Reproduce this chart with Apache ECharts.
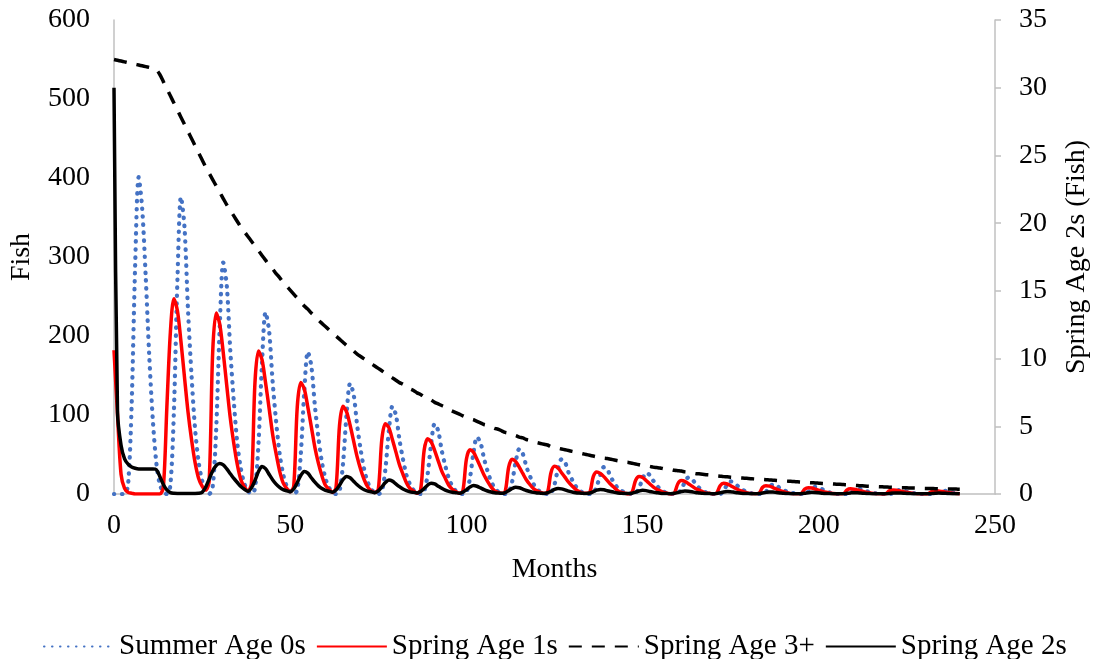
<!DOCTYPE html>
<html>
<head>
<meta charset="utf-8">
<script src="https://cdn.jsdelivr.net/npm/echarts@6/dist/echarts.min.js"></script>
<style>
html,body{margin:0;padding:0;background:#fff;}
#chart{width:1094px;height:659px;}
</style>
</head>
<body>
<div id="chart"></div>
<script>
// Monthly values, month 0 .. 240
const summerAge0 = [
  0,0,0,0,12,112,289,401,361,275,175,95,
  40,12,3,0,11,105,271,376,338,233,150,83,
  41,17,6,0,9,82,211,293,264,182,117,64,
  32,13,4,0,7,64,166,230,207,143,92,51,
  25,10,3,0,5,50,130,180,162,112,72,40,
  20,8,3,0,4,39,101,140,126,87,56,31,
  15,6,2,0,3,31,80,111,100,69,44,24,
  12,5,2,0,3,25,64,89,80,55,36,20,
  10,4,1,0,2,20,52,72,65,45,29,16,
  8,3,1,0,2,16,41,57,51,35,23,13,
  6,3,1,0,1,12,32,44,40,27,18,10,
  5,2,1,0,1,10,24,34,31,21,14,7,
  4,2,1,0,1,8,19,27,24,17,11,6,
  3,1,0,0,1,6,15,21,19,13,8,5,
  2,1,0,0,0,4,12,16,14,10,6,4,
  2,1,0,0,0,3,9,12,11,7,5,3,
  1,1,0,0,0,3,6,9,8,6,4,2,
  1,0,0,0,0,2,5,7,6,4,3,2,
  1,0,0,0,0,1,4,5,5,3,2,1,
  1,0,0,0,0,1,3,4,4,2,2,1,
  0
];
const springAge1 = [
  182,100,25,7,2,1,0,0,0,0,0,0,0,0,
  8,110,205,247,232,193,148,104,69,40,20,10,
  5,16,179,229,215,179,137,96,64,37,18,9,
  4,13,141,181,170,141,109,76,51,29,14,7,
  3,10,110,141,133,110,85,59,39,23,11,6,
  2,8,87,111,104,87,67,47,31,18,9,4,
  2,6,69,89,84,69,53,37,25,14,7,4,
  1,5,55,70,66,55,42,29,20,11,6,3,
  1,4,44,56,53,44,34,24,16,9,4,2,
  1,3,34,44,41,34,26,18,12,7,4,2,
  1,2,27,35,33,27,21,15,10,6,3,1,
  1,2,22,28,26,22,17,12,8,4,2,1,
  0,2,17,22,21,17,13,9,6,4,2,1,
  0,1,13,17,16,13,10,7,5,3,1,1,
  0,1,10.5,13.5,12.7,10.5,8,5.7,3.8,2.2,1.1,0.5,
  0.3,0.7,8.2,10.5,9.9,8.2,6.3,4.4,2.9,1.7,0.8,0.4,
  0.2,0.6,6.2,8,7.5,6.2,4.8,3.4,2.2,1.3,0.6,0.3,
  0.2,0.5,5.1,6.5,6.1,5.1,3.9,2.7,1.8,1,0.5,0.3,
  0.1,0.4,3.9,5,4.7,3.9,3,2.1,1.4,0.8,0.4,0.2,
  0.1,0.3,3.1,4,3.8,3.1,2.4,1.7,1.1,0.6,0.3
];
const springAge3 = [
  550,549,548,547,546,545,544,543,542,541,540,539,
  537,531,522,513,504,495,486,477,468,459,450,441,
  432,423,414,406,398,390,382,374,366,359,352,345,
  338,332,326,320,314,308,302,296,290,285,279,274,
  268,263,258,253,248,243,238,234,229,225,220,216,
  212,208,204,200,196,192,188,185,181,177,174,171,
  168,165,162,159,156,153,150,147,144,141,139,136,
  133,131,128,126,123,121,119,116,114,112,110,107,
  105,103,101,99,97,95,94,92,90,88,87,85,
  83,82,80,78,77,75,74,72,71,69,68,66,
  65,64,63,62,60,59,58,57,56,55,54,53,
  52,51,50,49,48,47,46,45.5,45,44,43,42,
  41.5,40.5,40,39,38,37,36,35.5,35,34,33.5,33,
  32,31.5,31,30,29.5,29,28,27.5,27,26,25.5,25,
  24.5,24,23.5,23,22.5,22,21.7,21.3,21,20.6,20.3,20,
  19.6,19.3,19,18.7,18.4,18.1,17.8,17.5,17.2,16.9,16.6,16.3,
  16,15.7,15.4,15.1,14.8,14.5,14.2,14,13.7,13.4,13.2,12.9,
  12.7,12.4,12.2,11.9,11.6,11.3,11,10.7,10.4,10.1,9.9,9.7,
  9.5,9.3,9.1,8.9,8.7,8.5,8.3,8.1,8,7.8,7.7,7.5,
  7.4,7.2,7.1,7,6.9,6.8,6.7,6.6,6.5,6.4,6.3,6.2,
  6.1
];
const springAge2 = [
  30,6,3.6,2.6,2.2,2.0,1.9,1.85,1.85,1.85,1.85,1.85,1.8,1.3,
  0.7,0.3,0.1,0.05,0.04,0.04,0.04,0.04,0.04,0.04,0.05,0.12,
  0.5,1.1,1.7,2.1,2.25,2.15,1.85,1.5,1.15,0.85,0.55,0.35,
  0.2,0.45,1.0,1.66,2.03,1.87,1.46,1.06,0.73,0.49,0.32,0.24,
  0.17,0.37,0.84,1.37,1.67,1.54,1.2,0.87,0.6,0.4,0.27,0.2,
  0.13,0.29,0.65,1.07,1.3,1.2,0.94,0.68,0.47,0.31,0.21,0.16,
  0.1,0.23,0.52,0.84,1.03,0.95,0.74,0.54,0.37,0.25,0.16,0.12,
  0.08,0.18,0.4,0.66,0.8,0.74,0.58,0.42,0.29,0.19,0.13,0.1,
  0.06,0.14,0.31,0.51,0.62,0.57,0.45,0.32,0.22,0.15,0.1,0.07,
  0.05,0.11,0.25,0.41,0.5,0.46,0.36,0.26,0.18,0.12,0.08,0.06,
  0.04,0.09,0.2,0.34,0.41,0.38,0.3,0.21,0.15,0.1,0.07,0.05,
  0.03,0.07,0.17,0.28,0.34,0.31,0.24,0.18,0.12,0.08,0.05,0.04,
  0.03,0.06,0.14,0.22,0.27,0.25,0.19,0.14,0.1,0.06,0.04,0.03,
  0.02,0.05,0.11,0.18,0.22,0.2,0.16,0.11,0.08,0.05,0.04,0.03,
  0.02,0.04,0.09,0.15,0.18,0.17,0.13,0.09,0.06,0.04,0.03,0.02,
  0.015,0.03,0.075,0.12,0.15,0.14,0.11,0.08,0.05,0.04,0.02,0.02,
  0.01,0.03,0.06,0.1,0.12,0.11,0.09,0.06,0.04,0.03,0.02,0.01,
  0.01,0.02,0.05,0.08,0.1,0.09,0.07,0.05,0.04,0.02,0.02,0.01,
  0.01,0.02,0.04,0.07,0.08,0.07,0.06,0.04,0.03,0.02,0.01,0.01,
  0.01,0.01,0.03,0.05,0.065,0.06,0.05,0.03,0.02,0.02,0.01
];
const seriesNames = ['Summer Age 0s', 'Spring Age 1s', 'Spring Age 3+', 'Spring Age 2s'];
const xAxisName = 'Months';
const leftAxisName = 'Fish';
const rightAxisName = 'Spring Age 2s (Fish)';

const toPairs = arr => arr.map((v, i) => [i, v]);
const FONT = "'Liberation Serif', 'Times New Roman', serif";
const FS = 28;
const axisGray = '#c0c0c0';

const chart = echarts.init(document.getElementById('chart'), null, {renderer: 'canvas'});
chart.setOption({
  animation: false,
  backgroundColor: '#ffffff',
  textStyle: {fontFamily: FONT, color: '#000'},
  grid: {left: 114, right: 99, top: 20, bottom: 165, containLabel: false, outerBoundsMode: 'none'},
  legend: {
    data: seriesNames,
    left: 38,
    top: 627,
    itemWidth: 70,
    itemHeight: 14,
    itemGap: 10,
    itemStyle: {opacity: 0},
    textStyle: {fontFamily: FONT, fontSize: 29, color: '#000'}
  },
  xAxis: {
    type: 'value', min: 0, max: 250, interval: 50,
    name: xAxisName, nameLocation: 'middle', nameGap: 62,
    nameTextStyle: {fontFamily: FONT, fontSize: FS, color: '#000'},
    axisLine: {show: true, lineStyle: {color: axisGray, width: 1.5}},
    axisTick: {show: false},
    splitLine: {show: false},
    axisLabel: {fontFamily: FONT, fontSize: FS, color: '#000', margin: 18}
  },
  yAxis: [{
    type: 'value', min: 0, max: 600, interval: 100, position: 'left',
    name: leftAxisName, nameLocation: 'middle', nameGap: 78, nameRotate: 90,
    nameTextStyle: {fontFamily: FONT, fontSize: FS, color: '#000'},
    axisLine: {show: true, lineStyle: {color: axisGray, width: 1.5}},
    axisTick: {show: false},
    splitLine: {show: false},
    axisLabel: {fontFamily: FONT, fontSize: FS, color: '#000', margin: 24}
  }, {
    type: 'value', min: 0, max: 35, interval: 5, position: 'right',
    name: rightAxisName, nameLocation: 'middle', nameGap: 68, nameRotate: 90,
    nameTextStyle: {fontFamily: FONT, fontSize: FS, color: '#000'},
    axisLine: {show: true, lineStyle: {color: axisGray, width: 1.5}},
    axisTick: {show: true, inside: false, length: 6, lineStyle: {color: axisGray, width: 1.5}},
    splitLine: {show: false},
    axisLabel: {fontFamily: FONT, fontSize: FS, color: '#000', margin: 24}
  }],
  series: [{
    name: seriesNames[0], type: 'line', yAxisIndex: 0,
    data: toPairs(summerAge0), symbol: 'none', smooth: 0.3,
    lineStyle: {color: '#4472C4', width: 4.2, type: [0.5, 7.5], cap: 'round'},
    itemStyle: {color: '#4472C4'}
  }, {
    name: seriesNames[1], type: 'line', yAxisIndex: 0,
    data: toPairs(springAge1), symbol: 'none', smooth: 0.3,
    lineStyle: {color: '#FF0000', width: 3.5},
    itemStyle: {color: '#FF0000'}
  }, {
    name: seriesNames[2], type: 'line', yAxisIndex: 0,
    data: toPairs(springAge3), symbol: 'none', smooth: 0.3,
    lineStyle: {color: '#000000', width: 3.5, type: [13, 10]},
    itemStyle: {color: '#000000'}
  }, {
    name: seriesNames[3], type: 'line', yAxisIndex: 1,
    data: toPairs(springAge2), symbol: 'none', smooth: 0.3,
    lineStyle: {color: '#000000', width: 3.5},
    itemStyle: {color: '#000000'}
  }]
});
</script>
</body>
</html>
